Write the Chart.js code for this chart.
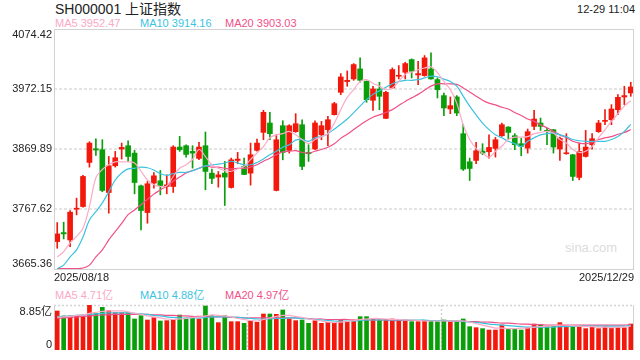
<!DOCTYPE html>
<html>
<head>
<meta charset="utf-8">
<script src="https://cdn.jsdelivr.net/npm/chart.js@4.4.1/dist/chart.umd.min.js"></script>
<style>
body { margin: 0; width: 640px; height: 360px; background: #fff; position: relative; overflow: hidden;
       font-family: Arial, "Liberation Sans", "Noto Sans CJK SC", sans-serif; }
.txt { position: absolute; white-space: nowrap; font-size: 11px; line-height: 13px; }
#main { position: absolute; left: 0; top: 0; }
#vol { position: absolute; left: 0; top: 290px; }
</style>
</head>
<body>
<div class="txt" style="left:55px;top:1px;font-size:14px;line-height:16px;color:#222">SH000001 上证指数</div>
<div class="txt" style="right:5px;top:3px;color:#222">12-29 11:04</div>
<div class="txt" id="maLeg5" style="left:55px;top:17px;color:#f9a9c5"></div>
<div class="txt" id="maLeg10" style="left:140px;top:17px;color:#3cc3df"></div>
<div class="txt" id="maLeg20" style="left:225px;top:17px;color:#ef5088"></div>
<div class="txt" style="left:565px;top:241px;font-size:13px;color:#dcdcdc">sina.com</div>
<div class="txt" id="vLeg5" style="left:55px;top:289px;color:#f9a9c5"></div>
<div class="txt" id="vLeg10" style="left:140px;top:289px;color:#3cc3df"></div>
<div class="txt" id="vLeg20" style="left:225px;top:289px;color:#ef5088"></div>
<canvas id="main" width="640" height="285"></canvas>
<canvas id="vol" width="640" height="70"></canvas>
<script>
// trading days 2025/08/18 - 2025/12/29
const dates = [
  '2025/08/18','2025/08/19','2025/08/20','2025/08/21','2025/08/22','2025/08/25','2025/08/26','2025/08/27','2025/08/28','2025/08/29',
  '2025/09/01','2025/09/02','2025/09/03','2025/09/04','2025/09/05','2025/09/08','2025/09/09','2025/09/10','2025/09/11','2025/09/12',
  '2025/09/15','2025/09/16','2025/09/17','2025/09/18','2025/09/19','2025/09/22','2025/09/23','2025/09/24','2025/09/25','2025/09/26',
  '2025/09/29','2025/09/30','2025/10/09','2025/10/10','2025/10/13','2025/10/14','2025/10/15','2025/10/16','2025/10/17','2025/10/20',
  '2025/10/21','2025/10/22','2025/10/23','2025/10/24','2025/10/27','2025/10/28','2025/10/29','2025/10/30','2025/10/31','2025/11/03',
  '2025/11/04','2025/11/05','2025/11/06','2025/11/07','2025/11/10','2025/11/11','2025/11/12','2025/11/13','2025/11/14','2025/11/17',
  '2025/11/18','2025/11/19','2025/11/20','2025/11/21','2025/11/24','2025/11/25','2025/11/26','2025/11/27','2025/11/28','2025/12/01',
  '2025/12/02','2025/12/03','2025/12/04','2025/12/05','2025/12/08','2025/12/09','2025/12/10','2025/12/11','2025/12/12','2025/12/15',
  '2025/12/16','2025/12/17','2025/12/18','2025/12/19','2025/12/22','2025/12/23','2025/12/24','2025/12/25','2025/12/26','2025/12/29'
];

const openP = [
  3712.1, 3727.4, 3714.9, 3767.3, 3771.8, 3847.0, 3870.3, 3868.6, 3795.7, 3841.3,
  3869.8, 3875.5, 3862.9, 3807.1, 3761.6, 3811.7, 3815.7, 3806.0, 3806.0, 3873.2,
  3875.5, 3865.8, 3853.8, 3875.5, 3828.8, 3822.0, 3828.8, 3804.3, 3850.4, 3840.2,
  3828.8, 3867.5, 3898.2, 3914.2, 3799.2, 3909.6, 3867.5, 3899.4, 3911.3, 3864.1,
  3869.8, 3894.2, 3902.8, 3928.4, 3966.5, 3984.8, 3989.3, 4006.4, 3985.3, 3952.9,
  3972.2, 3922.1, 3974.0, 3993.9, 4000.7, 4022.3, 3996.1, 3995.0, 4006.4, 3988.2,
  3960.9, 3938.1, 3958.6, 3896.0, 3848.1, 3850.4, 3866.4, 3865.2, 3870.9, 3892.5,
  3907.3, 3892.5, 3878.9, 3871.5, 3908.5, 3914.2, 3901.6, 3902.8, 3869.8, 3861.8,
  3860.1, 3821.4, 3857.2, 3877.2, 3899.4, 3917.0, 3919.8, 3936.9, 3958.6, 3965.4
];
const highP = [
  3744.5, 3745.1, 3765.0, 3786.1, 3824.8, 3882.3, 3887.4, 3885.7, 3857.2, 3865.8,
  3880.0, 3884.0, 3867.5, 3808.5, 3814.5, 3829.9, 3833.3, 3825.9, 3875.5, 3891.4,
  3877.2, 3875.5, 3881.1, 3898.8, 3835.6, 3831.6, 3848.7, 3854.4, 3864.1, 3854.4,
  3880.0, 3886.8, 3935.8, 3932.4, 3894.2, 3918.1, 3911.3, 3930.1, 3919.8, 3877.2,
  3918.1, 3917.0, 3925.6, 3949.5, 3998.4, 4003.0, 4015.5, 4025.2, 3986.0, 3976.8,
  3983.6, 3968.2, 4008.1, 4012.1, 4017.8, 4023.5, 4019.5, 4029.2, 4033.7, 3991.0,
  3965.4, 3958.6, 3960.9, 3911.3, 3854.4, 3881.1, 3878.9, 3894.2, 3889.7, 3914.2,
  3908.0, 3896.0, 3887.9, 3903.9, 3935.8, 3922.7, 3905.6, 3903.5, 3890.3, 3896.0,
  3860.8, 3880.0, 3901.6, 3896.0, 3918.7, 3936.9, 3945.5, 3962.6, 3976.8, 3983.6
];
const lowP = [
  3700.7, 3716.6, 3703.5, 3757.6, 3770.7, 3839.0, 3858.9, 3797.0, 3760.5, 3839.0,
  3852.7, 3848.7, 3793.5, 3732.0, 3743.4, 3803.2, 3791.8, 3793.5, 3795.8, 3865.8,
  3856.1, 3837.3, 3851.5, 3800.3, 3810.6, 3804.9, 3773.6, 3803.2, 3844.7, 3826.0,
  3808.3, 3866.4, 3885.7, 3885.7, 3798.5, 3851.5, 3862.9, 3898.2, 3834.5, 3848.7,
  3868.6, 3885.7, 3875.5, 3927.8, 3962.6, 3976.8, 3987.0, 3983.6, 3949.5, 3935.8,
  3936.9, 3921.5, 3973.5, 3989.3, 3989.3, 3991.0, 3979.6, 3993.9, 3989.0, 3956.9,
  3926.7, 3930.1, 3926.7, 3833.3, 3816.2, 3844.7, 3860.1, 3854.4, 3856.1, 3891.4,
  3886.8, 3868.6, 3858.4, 3862.9, 3902.8, 3901.6, 3877.2, 3862.9, 3850.4, 3861.0,
  3816.2, 3817.4, 3856.1, 3869.8, 3898.2, 3911.3, 3911.3, 3928.4, 3945.5, 3959.7
];
const closeP = [
  3725.2, 3725.2, 3762.2, 3769.0, 3823.1, 3880.0, 3868.1, 3799.2, 3841.3, 3855.0,
  3872.6, 3857.2, 3812.8, 3765.0, 3810.6, 3824.2, 3807.7, 3808.8, 3873.2, 3868.6,
  3860.6, 3862.9, 3873.2, 3831.6, 3819.7, 3825.9, 3822.0, 3851.5, 3852.7, 3826.5,
  3860.1, 3880.0, 3932.4, 3896.0, 3885.7, 3864.1, 3909.6, 3913.0, 3840.2, 3861.8,
  3914.2, 3909.6, 3919.8, 3947.2, 3992.7, 3987.0, 4013.8, 3987.0, 3954.0, 3972.2,
  3959.7, 3966.5, 4005.3, 3995.6, 4015.5, 4002.4, 3998.4, 4025.2, 3989.3, 3971.1,
  3939.8, 3943.8, 3931.3, 3835.6, 3836.7, 3866.9, 3862.9, 3872.6, 3885.7, 3911.3,
  3898.2, 3877.2, 3874.3, 3899.4, 3921.0, 3908.5, 3899.4, 3873.2, 3887.9, 3862.9,
  3823.1, 3865.8, 3873.2, 3887.4, 3914.2, 3918.7, 3938.1, 3958.0, 3960.9, 3975.7
];

const ma5 = [
  3686, 3695, 3710, 3721, 3735, 3772, 3821, 3835, 3843, 3848,
  3848, 3848, 3846, 3832, 3817, 3809, 3806, 3807, 3823, 3837,
  3843, 3852, 3869, 3857, 3843, 3837, 3833, 3832, 3836, 3840,
  3852, 3863, 3874, 3889, 3894, 3896, 3900, 3894, 3886, 3879,
  3886, 3891, 3896, 3914, 3937, 3958, 3971, 3985, 3988, 3982,
  3977, 3971, 3974, 3985, 3997, 4001, 4005, 4008, 4010, 4000,
  3985, 3971, 3948, 3911, 3886, 3871, 3863, 3856, 3866, 3875,
  3886, 3890, 3890, 3891, 3896, 3898, 3900, 3897, 3886, 3880,
  3869, 3864, 3866, 3874, 3889, 3903, 3917, 3930, 3943, 3952
];
const ma10 = [
  3666, 3672, 3686, 3698, 3720, 3749, 3763, 3778, 3797, 3817,
  3829, 3836, 3837, 3839, 3838, 3834, 3828, 3825, 3828, 3830,
  3830, 3833, 3837, 3841, 3843, 3844, 3846, 3849, 3846, 3843,
  3843, 3847, 3853, 3860, 3866, 3873, 3877, 3885, 3886, 3883,
  3889, 3891, 3896, 3904, 3912, 3921, 3932, 3943, 3954, 3963,
  3969, 3975, 3981, 3985, 3987, 3987, 3988, 3991, 3994, 3993,
  3989, 3985, 3977, 3960, 3943, 3928, 3914, 3903, 3894, 3889,
  3883, 3879, 3874, 3883, 3889, 3894, 3896, 3897, 3894, 3891,
  3886, 3884, 3883, 3883, 3883, 3883, 3886, 3891, 3900, 3912
];
const ma20 = [
  3666, 3666, 3666, 3666, 3667, 3672, 3686, 3698, 3715, 3729,
  3743, 3758, 3766, 3775, 3784, 3793, 3800, 3807, 3815, 3822,
  3829, 3833, 3837, 3841, 3839, 3839, 3837, 3836, 3837, 3837,
  3839, 3843, 3849, 3854, 3860, 3865, 3866, 3867, 3864, 3863,
  3866, 3869, 3873, 3879, 3888, 3895, 3903, 3911, 3918, 3924,
  3928, 3932, 3937, 3944, 3951, 3957, 3963, 3970, 3977, 3981,
  3981, 3981, 3980, 3974, 3967, 3960, 3953, 3948, 3945, 3941,
  3938, 3932, 3927, 3921, 3917, 3911, 3906, 3900, 3894, 3889,
  3883, 3880, 3879, 3881, 3886, 3889, 3891, 3895, 3898, 3903
];

// volume, 亿
const volume = [
  7.67, 6.69, 6.69, 6.69, 6.69, 8.85, 7.21, 8.39, 7.74, 7.34,
  7.34, 7.41, 6.10, 6.75, 5.90, 6.36, 5.70, 5.77, 6.03, 6.88,
  6.10, 6.43, 6.10, 8.65, 6.75, 5.38, 6.75, 5.57, 5.57, 5.25,
  5.70, 5.44, 7.08, 7.08, 7.02, 7.87, 6.10, 5.77, 5.90, 5.25,
  5.77, 5.25, 5.44, 5.25, 6.03, 5.64, 5.90, 6.56, 6.56, 6.03,
  5.90, 6.03, 6.10, 5.77, 5.90, 5.57, 5.57, 5.77, 5.77, 5.57,
  5.90, 5.57, 5.57, 6.10, 4.59, 4.39, 4.20, 3.93, 3.93, 4.92,
  4.20, 4.26, 3.93, 4.39, 5.11, 4.92, 4.59, 4.66, 5.38, 4.85,
  4.59, 4.59, 4.20, 4.66, 4.20, 4.59, 4.39, 4.39, 4.39, 5.11
];
const vma5 = [
  6.4, 6.5, 6.6, 6.8, 6.9, 7.2, 7.4, 7.6, 7.7, 7.7,
  7.7, 7.5, 7.2, 7.0, 6.7, 6.5, 6.3, 6.1, 6.0, 6.1,
  6.2, 6.4, 6.5, 6.7, 6.9, 6.8, 6.7, 6.5, 6.2, 6.0,
  5.8, 5.7, 6.0, 6.3, 6.6, 6.8, 6.8, 6.6, 6.4, 6.1,
  5.9, 5.7, 5.5, 5.4, 5.5, 5.6, 5.8, 6.0, 6.1, 6.2,
  6.2, 6.1, 6.0, 6.0, 5.9, 5.9, 5.8, 5.7, 5.7, 5.7,
  5.7, 5.7, 5.7, 5.7, 5.5, 5.2, 4.9, 4.6, 4.3, 4.3,
  4.2, 4.2, 4.3, 4.3, 4.5, 4.6, 4.7, 4.8, 4.9, 4.9,
  4.8, 4.7, 4.6, 4.6, 4.5, 4.5, 4.4, 4.5, 4.5, 4.7
];
const vma10 = [
  6.6, 6.6, 6.7, 6.8, 6.9, 7.0, 7.1, 7.2, 7.3, 7.3,
  7.3, 7.3, 7.2, 7.1, 7.0, 6.8, 6.7, 6.5, 6.4, 6.3,
  6.3, 6.3, 6.3, 6.4, 6.5, 6.5, 6.5, 6.5, 6.4, 6.3,
  6.2, 6.1, 6.1, 6.1, 6.2, 6.2, 6.3, 6.3, 6.2, 6.1,
  6.0, 5.9, 5.8, 5.7, 5.7, 5.7, 5.7, 5.8, 5.9, 5.9,
  5.9, 5.9, 5.9, 5.9, 5.9, 5.9, 5.9, 5.9, 5.8, 5.8,
  5.8, 5.7, 5.7, 5.6, 5.5, 5.4, 5.3, 5.1, 5.0, 4.9,
  4.8, 4.7, 4.6, 4.5, 4.5, 4.5, 4.5, 4.5, 4.6, 4.6,
  4.7, 4.7, 4.7, 4.7, 4.7, 4.7, 4.7, 4.7, 4.7, 4.9
];
const vma20 = [
  6.2, 6.3, 6.4, 6.5, 6.6, 6.7, 6.8, 6.9, 6.9, 7.0,
  7.0, 7.0, 7.0, 7.0, 7.0, 6.9, 6.9, 6.8, 6.8, 6.7,
  6.7, 6.6, 6.6, 6.6, 6.5, 6.5, 6.5, 6.4, 6.4, 6.3,
  6.3, 6.3, 6.3, 6.3, 6.3, 6.3, 6.3, 6.3, 6.2, 6.2,
  6.1, 6.1, 6.0, 6.0, 6.0, 6.0, 5.9, 5.9, 5.9, 5.9,
  5.9, 5.9, 5.8, 5.8, 5.8, 5.8, 5.8, 5.8, 5.8, 5.8,
  5.8, 5.7, 5.7, 5.7, 5.6, 5.6, 5.5, 5.5, 5.4, 5.3,
  5.3, 5.2, 5.1, 5.1, 5.0, 5.0, 4.9, 4.9, 4.9, 4.9,
  4.9, 4.9, 4.9, 4.9, 4.9, 4.9, 4.9, 4.9, 4.9, 5.0
];

const yTicks = [3665.36, 3767.62, 3869.89, 3972.15, 4074.42];
const maLegend = ['MA5 3952.47', 'MA10 3914.16', 'MA20 3903.03'];
const volLegend = ['MA5 4.71亿', 'MA10 4.88亿', 'MA20 4.97亿'];
const volMax = 8.85;

const upColor = '#f2190c';
const downColor = '#0a9e0a';
const ma5Color = '#fbabc6';
const ma10Color = '#3cc3df';
const ma20Color = '#ef5088';

document.getElementById('maLeg5').textContent = maLegend[0];
document.getElementById('maLeg10').textContent = maLegend[1];
document.getElementById('maLeg20').textContent = maLegend[2];
document.getElementById('vLeg5').textContent = volLegend[0];
document.getElementById('vLeg10').textContent = volLegend[1];
document.getElementById('vLeg20').textContent = volLegend[2];

const candleColors = openP.map((o, i) => closeP[i] >= o ? upColor : downColor);

function maLine(data, color, width) {
    return {
        type: 'line', data: data, borderColor: color, borderWidth: width,
        pointRadius: 0, tension: 0.35, fill: false, order: 0
    };
}

// frame, gridlines and tick labels of the price panel
const priceFrame = {
    id: 'priceFrame',
    beforeDatasetsDraw(chart) {
        const { ctx, chartArea: a, scales: { y } } = chart;
        ctx.save();
        ctx.strokeStyle = '#e4e4e4';
        ctx.lineWidth = 2;
        ctx.setLineDash([3, 2]);
        yTicks.slice(1, -1).forEach(v => {
            const py = Math.round(y.getPixelForValue(v));
            ctx.beginPath();
            ctx.moveTo(a.left, py);
            ctx.lineTo(a.right, py);
            ctx.stroke();
        });
        ctx.restore();
    },
    afterDraw(chart) {
        const { ctx, chartArea: a, scales: { y } } = chart;
        ctx.save();
        ctx.strokeStyle = '#d2d2d2';
        ctx.lineWidth = 1;
        ctx.strokeRect(a.left + 0.5, a.top + 0.5, a.right - a.left - 1, a.bottom - a.top);
        ctx.fillStyle = '#222';
        ctx.font = '11px Arial, "Liberation Sans", sans-serif';
        ctx.textAlign = 'right';
        yTicks.forEach((v, i) => {
            let py = y.getPixelForValue(v);
            if (i === yTicks.length - 1) py += 6;
            if (i === 0) py -= 5;
            ctx.textBaseline = 'middle';
            ctx.fillText(v.toFixed(2), a.left - 2, py);
        });
        ctx.textBaseline = 'top';
        ctx.textAlign = 'left';
        ctx.fillText(dates[0], a.left, a.bottom + 3);
        ctx.textAlign = 'right';
        ctx.fillText(dates[dates.length - 1], a.right, a.bottom + 3);
        ctx.restore();
    }
};

new Chart(document.getElementById('main'), {
    type: 'bar',
    data: {
        labels: dates,
        datasets: [
            maLine(ma5, ma5Color, 1.2),
            maLine(ma10, ma10Color, 1.2),
            maLine(ma20, ma20Color, 1.2),
            {
                data: lowP.map((l, i) => [l, highP[i]]),
                backgroundColor: candleColors, barThickness: 1, grouped: false, order: 2
            },
            {
                data: openP.map((o, i) => [o, closeP[i]]),
                backgroundColor: candleColors, barThickness: 5, grouped: false,
                minBarLength: 1, order: 1
            }
        ]
    },
    options: {
        responsive: false,
        animation: false,
        layout: { padding: { top: 29, right: 6, left: 0, bottom: 0 } },
        plugins: { legend: { display: false }, tooltip: { enabled: false } },
        scales: {
            x: {
                grid: { display: false }, border: { display: false },
                ticks: { display: false },
                afterFit(s) { s.height = 16; }
            },
            y: {
                min: yTicks[0], max: yTicks[yTicks.length - 1],
                grid: { display: false }, border: { display: false },
                ticks: { display: false },
                afterFit(s) { s.width = 54; }
            }
        }
    },
    plugins: [priceFrame]
});

// volume panel
const volFrame = {
    id: 'volFrame',
    beforeDatasetsDraw(chart) {
        const { ctx, chartArea: a } = chart;
        ctx.save();
        ctx.strokeStyle = '#d4d4d4';
        ctx.lineWidth = 1.5;
        ctx.setLineDash([2, 2]);
        ctx.beginPath();
        ctx.moveTo(a.left, a.top + 0.5);
        ctx.lineTo(a.right, a.top + 0.5);
        ctx.stroke();
        [1, 2].forEach(k => {
            const px = Math.round(a.left + (a.right - a.left) * k / 3) + 0.5;
            ctx.beginPath();
            ctx.moveTo(px, a.top);
            ctx.lineTo(px, a.bottom);
            ctx.stroke();
        });
        ctx.setLineDash([]);
        ctx.strokeStyle = '#d2d2d2';
        ctx.lineWidth = 1;
        ctx.beginPath();
        ctx.moveTo(a.left + 0.5, a.top);
        ctx.lineTo(a.left + 0.5, a.bottom);
        ctx.moveTo(a.right - 0.5, a.top);
        ctx.lineTo(a.right - 0.5, a.bottom);
        ctx.stroke();
        ctx.restore();
    },
    afterDraw(chart) {
        const { ctx, chartArea: a, scales: { y } } = chart;
        ctx.save();
        ctx.fillStyle = '#222';
        ctx.font = '11px Arial, "Liberation Sans", "Noto Sans CJK SC", sans-serif';
        ctx.textAlign = 'right';
        ctx.textBaseline = 'top';
        ctx.fillText(volMax + '亿', a.left - 2, y.getPixelForValue(volMax) + 1);
        ctx.textBaseline = 'bottom';
        ctx.fillText('0', a.left - 2, y.getPixelForValue(0));
        ctx.restore();
    }
};

new Chart(document.getElementById('vol'), {
    type: 'bar',
    data: {
        labels: dates,
        datasets: [
            maLine(vma5, ma5Color, 1.2),
            maLine(vma10, ma10Color, 1.2),
            maLine(vma20, ma20Color, 1.2),
            { data: volume, backgroundColor: candleColors, barThickness: 4, order: 1 }
        ]
    },
    options: {
        responsive: false,
        animation: false,
        layout: { padding: { top: 15, right: 6, left: 0, bottom: 10 } },
        plugins: { legend: { display: false }, tooltip: { enabled: false } },
        scales: {
            x: {
                grid: { display: false }, border: { display: false },
                ticks: { display: false },
                afterFit(s) { s.height = 0; }
            },
            y: {
                min: 0, max: volMax,
                grid: { display: false }, border: { display: false },
                ticks: { display: false },
                afterFit(s) { s.width = 54; }
            }
        }
    },
    plugins: [volFrame]
});
</script>
</body>
</html>
